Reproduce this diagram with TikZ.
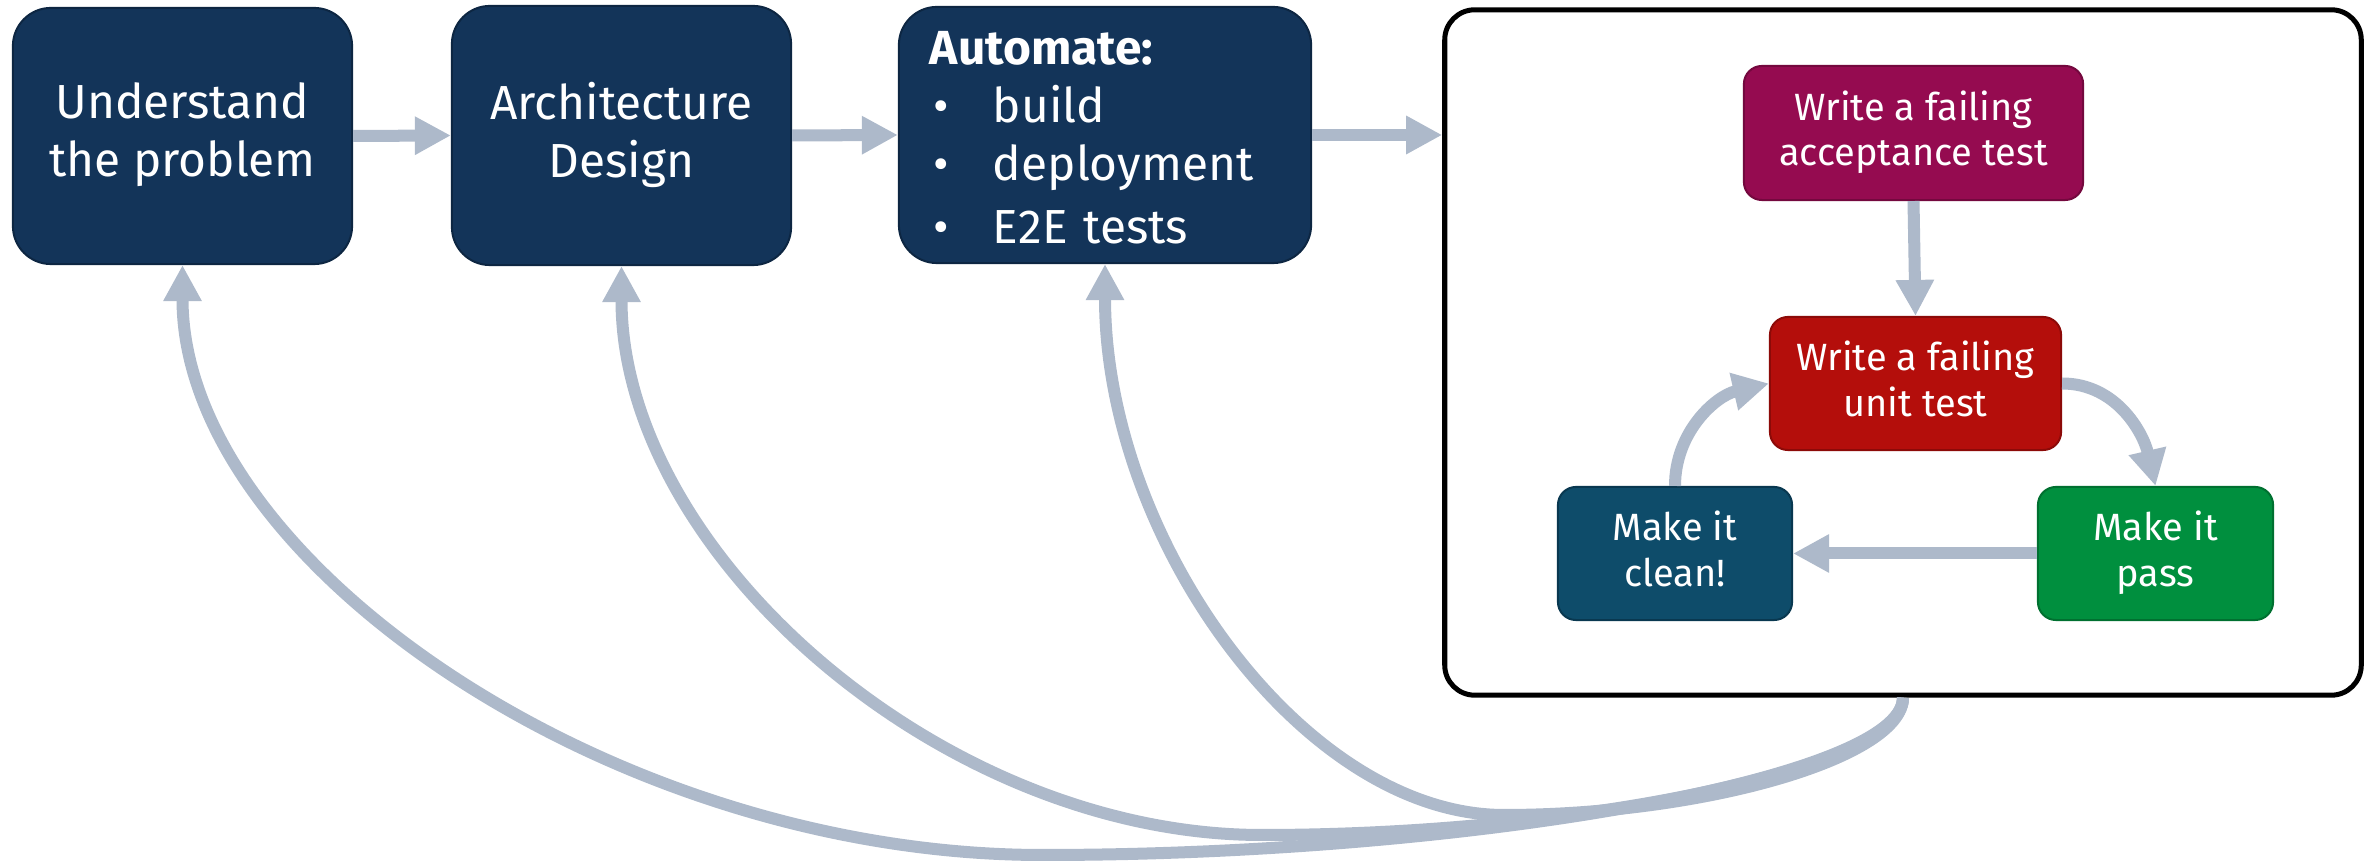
\documentclass[tikz,border=0pt]{standalone}
\usepackage{fontspec}
\setmainfont{Fira Sans}
\usetikzlibrary{arrows.meta}
\definecolor{stepColor}{HTML}{133459}
\definecolor{stepEdge}{HTML}{0D2642}
\definecolor{acceptColor}{HTML}{950B50}
\definecolor{acceptEdge}{HTML}{74083E}
\definecolor{unitColor}{HTML}{B40E0B}
\definecolor{unitEdge}{HTML}{8C0A08}
\definecolor{passColor}{HTML}{008F3E}
\definecolor{passEdge}{HTML}{007030}
\definecolor{cleanColor}{HTML}{0E4C6A}
\definecolor{cleanEdge}{HTML}{093850}
\definecolor{arrowColor}{HTML}{ADB9CA}
\newcommand{\textStrut}{\rule[-.25em]{0pt}{1.28em}}
\newcommand{\bulletItem}[1]{\makebox[.63cm][l]{\hspace{.04cm}\textbullet}#1}
\tikzstyle{slide} = [x = .01cm, y = -.01cm]
\tikzstyle{stepBox} = [draw=stepEdge, fill=stepColor, text=white, line width=.02cm, rounded corners=.38cm, align=center, inner sep=0pt, minimum width=3.39cm, minimum height=2.56cm, font=\fontsize{13.6}{16.5}\selectfont, execute at begin node=\textStrut, execute at end node=\textStrut]
\tikzstyle{tddBox} = [text=white, line width=.02cm, rounded corners=.18cm, align=center, inner sep=0pt, minimum height=1.33cm, font=\fontsize{10.8}{12.9}\selectfont, execute at begin node=\textStrut, execute at end node=\textStrut]
\tikzstyle{loopFrame} = [draw=black, fill=white, line width=.05cm, rounded corners=.3cm, minimum width=9.16cm, minimum height=6.85cm]
\tikzstyle{flowArrow} = [draw=arrowColor, line width=.12cm, -{Triangle[length=.36cm, width=.36cm]}]
\newcommand{\feedbackCurve}[5]{\draw [flowArrow] (loop.south) .. controls +(0,#3) and +(#4,0) .. (#2) .. controls +(-#4,0) and +(0,#5) .. (#1.south);}

\begin{document}
\begin{tikzpicture}[slide]
    \useasboundingbox (0,0) rectangle (2372,865);
    \node [stepBox] (und) at (182.5,136) {Understand\\the problem};
    \node [stepBox, minimum height=2.59cm] (arch) at (621.5,135.5) {Architecture\\Design};
    \node [stepBox, minimum width=4.12cm, text width=3.50cm, align=left] (auto) at (1105,135) {\textbf{Automate:}\\\bulletItem{build}\\\bulletItem{deployment}\\\bulletItem{E2E tests}};
    \node [loopFrame] (loop) at (1903,352.5) {};
    \node [tddBox, draw=acceptEdge, fill=acceptColor, minimum width=3.39cm, minimum height=1.34cm] (accept) at (1913.5,133) {Write a failing\\acceptance test};
    \node [tddBox, draw=unitEdge, fill=unitColor, minimum width=2.91cm] (unit) at (1915.5,383.5) {Write a failing\\unit test};
    \node [tddBox, draw=cleanEdge, fill=cleanColor, minimum width=2.34cm] (clean) at (1675,553.5) {Make it\\clean!};
    \node [tddBox, draw=passEdge, fill=passColor, minimum width=2.35cm] (pass) at (2155.5,553.5) {Make it\\pass};
    \draw [flowArrow] (und.east) -- (arch.west);
    \draw [flowArrow] (arch.east) -- (auto.west);
    \draw [flowArrow] (auto.east) -- (auto.east -| loop.west);
    \draw [flowArrow] (accept.south) -- (unit.north);
    \draw [flowArrow] (unit.east) to [out=0, in=103] (pass.north);
    \draw [flowArrow] (pass.west) -- (clean.east);
    \draw [flowArrow] (clean.north) to [out=90, in=193] (unit.west);
    \coordinate (lowUnd) at (1042.5,855);
    \coordinate (lowArch) at (1262,835);
    \coordinate (lowAuto) at (1504,815);
    \feedbackCurve{und}{lowUnd}{80}{430}{296}
    \feedbackCurve{arch}{lowArch}{70}{320}{287}
    \feedbackCurve{auto}{lowAuto}{60}{200}{276}
\end{tikzpicture}
\end{document}
